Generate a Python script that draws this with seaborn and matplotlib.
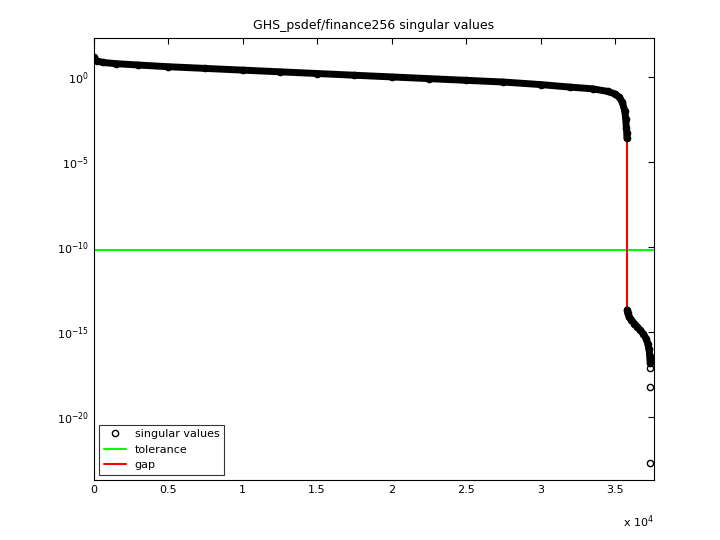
import numpy as np
import matplotlib
matplotlib.use("Agg")
import matplotlib.pyplot as plt
import seaborn as sns

# read-off sample points (x index, log10 singular value)
x_big = [1, 200, 600, 1500, 3000, 5000, 7500, 10000, 12500, 15000, 17500, 20000, 22500,
         25000, 27500, 30000, 32000, 33500, 34500, 35000, 35300, 35500, 35650, 35720, 35760, 35790, 35800]
y_big = [1.15, 0.95, 0.85, 0.78, 0.7, 0.6, 0.5, 0.4, 0.3, 0.2, 0.1, 0.0, -0.1,
         -0.2, -0.3, -0.45, -0.6, -0.7, -0.85, -1.0, -1.2, -1.5, -2.0, -2.5, -3.0, -3.3, -3.6]
x_small = [35820, 35850, 35950, 36100, 36300, 36500, 36700, 36900, 37100, 37200, 37280, 37330,
           37350, 37360]
y_small = [-13.7, -13.9, -14.1, -14.3, -14.5, -14.7, -14.9, -15.1, -15.4, -15.7, -16.0, -16.4,
           -16.6, -16.8]
x_tail = [37366, 37370, 37373]
y_tail = [-17.1, -18.2, -22.7]
tolerance = 10 ** -10.2
gap_x = 35810

sns.set_style("white")
plt.rcParams['text.color'] = 'black'
plt.rcParams['xtick.color'] = 'black'
plt.rcParams['ytick.color'] = 'black'
fig, ax = plt.subplots(figsize=(7.2, 5.4), dpi=100)
fig.subplots_adjust(left=0.13, right=0.908, top=0.93, bottom=0.111)

xs = np.array(x_big + x_small + x_tail)
ys = 10 ** np.array(y_big + y_small + y_tail)
ax.plot(x_big, 10 ** np.array(y_big), color='black', lw=5, solid_capstyle='round', zorder=2)
ax.plot(x_small, 10 ** np.array(y_small), color='black', lw=5, solid_capstyle='round', zorder=2)
ax.plot(xs, ys, 'o', mfc='none', mec='black', ms=4.5, mew=1, zorder=3, label='singular values')
ax.axhline(tolerance, color='#00ff00', lw=1.5, label='tolerance', zorder=1)
ax.plot([gap_x, gap_x], [10 ** y_big[-1], 10 ** y_small[0]], color='red', lw=1.5, label='gap', zorder=1)

ax.set_yscale('log')
ax.set_xlim(0, 37600)
ax.set_ylim(10 ** -23.7, 10 ** 2.3)
ax.set_yticks([1e0, 1e-5, 1e-10, 1e-15, 1e-20])
ax.minorticks_off()
ax.set_xticks([0, 5000, 10000, 15000, 20000, 25000, 30000, 35000])
ax.set_xticklabels(['0', '0.5', '1', '1.5', '2', '2.5', '3', '3.5'])
ax.text(1.0, -0.075, r'x $10^4$', transform=ax.transAxes, ha='right', va='top', fontsize=8)
ax.tick_params(direction='in', labelsize=8, top=True, right=True, length=4)
for s in ax.spines.values():
    s.set_color('black'); s.set_linewidth(0.8)
ax.set_title('GHS_psdef/finance256 singular values', fontsize=9)
leg = ax.legend(loc='lower left', fontsize=8, frameon=True, fancybox=False, edgecolor='black')
leg.get_frame().set_linewidth(0.8)
fig.savefig('out.png')
